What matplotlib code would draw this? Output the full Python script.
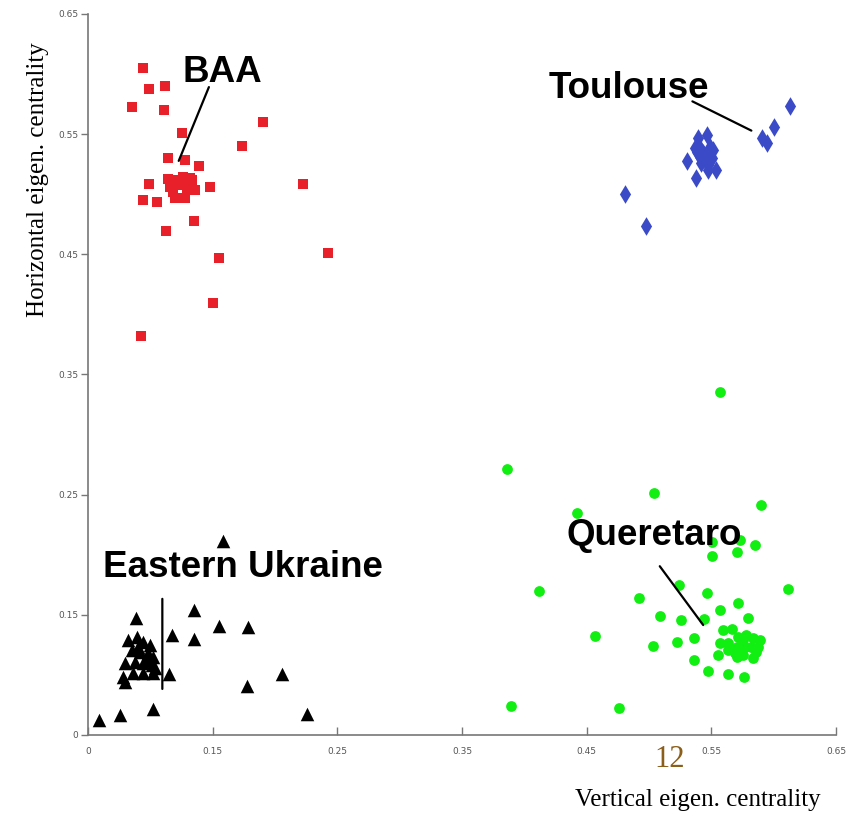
import matplotlib
matplotlib.use("Agg")
import matplotlib.pyplot as plt

# cluster coordinates (vertical eigen centrality, horizontal eigen centrality)
baa_x = [0.0939, 0.0992, 0.1117, 0.0850, 0.1109, 0.1901, 0.1256, 0.1733, 0.1139, 0.1278,
         0.1388, 0.0992, 0.1478, 0.2222, 0.0939, 0.1051, 0.1350, 0.1123, 0.1548, 0.2425,
         0.1502, 0.0925, 0.1144, 0.1198, 0.1264, 0.1318, 0.1158, 0.1224, 0.1292, 0.1358,
         0.1198, 0.1278, 0.1332, 0.1184, 0.1304]
baa_y = [0.6052, 0.5874, 0.5902, 0.5722, 0.5697, 0.5600, 0.5508, 0.5403, 0.5303, 0.5286,
         0.5234, 0.5082, 0.5057, 0.5082, 0.4948, 0.4937, 0.4779, 0.4690, 0.4468, 0.4510,
         0.4094, 0.3822, 0.5126, 0.5117, 0.5145, 0.5131, 0.5062, 0.5076, 0.5048, 0.5034,
         0.4965, 0.4965, 0.5117, 0.5020, 0.5090]

toulouse_x = [0.6130, 0.6001, 0.5903, 0.5947, 0.5394, 0.5466, 0.5368, 0.5421, 0.5488, 0.5514,
              0.5408, 0.5462, 0.5502, 0.5421, 0.5474, 0.5434, 0.5474, 0.5381, 0.5306, 0.5536,
              0.5376, 0.4806, 0.4975]
toulouse_y = [0.5735, 0.5561, 0.5464, 0.5423, 0.5464, 0.5492, 0.5381, 0.5367, 0.5394, 0.5367,
              0.5311, 0.5311, 0.5298, 0.5256, 0.5242, 0.5339, 0.5200, 0.5353, 0.5278, 0.5200,
              0.5131, 0.5001, 0.4735]

queretaro_x = [0.5568, 0.3863, 0.5039, 0.5899, 0.4424, 0.5502, 0.5729, 0.5851, 0.5704, 0.5504,
               0.4119, 0.5239, 0.4919, 0.5464, 0.6111, 0.5713, 0.5566, 0.5087, 0.5255, 0.5442,
               0.5795, 0.4563, 0.5028, 0.5226, 0.5362, 0.5362, 0.5474, 0.5632, 0.5761, 0.3890,
               0.4761, 0.5595, 0.5662, 0.5715, 0.5782, 0.5835, 0.5889, 0.5568, 0.5635, 0.5702,
               0.5769, 0.5822, 0.5875, 0.5555, 0.5688, 0.5755, 0.5835, 0.5635, 0.5755, 0.5702,
               0.5862]
queretaro_y = [0.3356, 0.2710, 0.2511, 0.2411, 0.2344, 0.2108, 0.2122, 0.2081, 0.2022, 0.1989,
               0.1700, 0.1748, 0.1642, 0.1679, 0.1715, 0.1596, 0.1540, 0.1493, 0.1457, 0.1463,
               0.1476, 0.1326, 0.1240, 0.1271, 0.1304, 0.1124, 0.1032, 0.1007, 0.0985, 0.0741,
               0.0727, 0.1374, 0.1379, 0.1318, 0.1332, 0.1304, 0.1290, 0.1263, 0.1263, 0.1235,
               0.1235, 0.1235, 0.1235, 0.1166, 0.1180, 0.1166, 0.1138, 0.1207, 0.1290, 0.1151,
               0.1193]

ukraine_x = [0.1585, 0.0883, 0.1352, 0.1171, 0.1553, 0.1781, 0.1352, 0.1152, 0.2053, 0.1775,
             0.1024, 0.0757, 0.0588, 0.2254, 0.0823, 0.0891, 0.0943, 0.0997, 0.0850, 0.0917,
             0.0984, 0.1024, 0.0797, 0.0877, 0.0943, 0.1011, 0.0783, 0.0863, 0.0943, 0.1024,
             0.0797, 0.0903, 0.0971, 0.1037]
ukraine_y = [0.2116, 0.1471, 0.1540, 0.1332, 0.1409, 0.1401, 0.1296, 0.1007, 0.1007, 0.0908,
             0.0714, 0.0666, 0.0625, 0.0675, 0.1290, 0.1318, 0.1276, 0.1249, 0.1207, 0.1193,
             0.1180, 0.1151, 0.1097, 0.1110, 0.1097, 0.1082, 0.0985, 0.1013, 0.1013, 0.1013,
             0.0943, 0.1235, 0.1124, 0.1055]

ticks = [0.05, 0.15, 0.25, 0.35, 0.45, 0.55, 0.65]
tick_labels = ['0', '0.15', '0.25', '0.35', '0.45', '0.55', '0.65']

fig = plt.figure(figsize=(8.64, 8.17), dpi=100)
ax = fig.add_axes([0.1019, 0.1004, 0.8657, 0.8825])

ax.scatter(baa_x, baa_y, marker='s', s=46, color='#e8202a', linewidths=0)
ax.scatter(toulouse_x, toulouse_y, marker='d', s=90, color='#3b4bc8', linewidths=0)
ax.scatter(queretaro_x, queretaro_y, marker='o', s=60, color='#11ee11', linewidths=0)
ax.scatter(ukraine_x, ukraine_y, marker='^', s=95, color='black', linewidths=0)

ax.set_xlim(0.05, 0.65)
ax.set_ylim(0.05, 0.65)
ax.set_xticks(ticks)
ax.set_xticklabels(tick_labels)
ax.set_yticks(ticks)
ax.set_yticklabels(tick_labels)

for side in ['top', 'right']:
    ax.spines[side].set_visible(False)
for side in ['left', 'bottom']:
    ax.spines[side].set_color('#777777')
    ax.spines[side].set_linewidth(1.2)

ax.tick_params(axis='x', direction='in', length=6, width=1, color='#777777',
               labelsize=6.5, labelcolor='#555555', pad=9)
ax.tick_params(axis='y', direction='out', length=5, width=1, color='#777777',
               labelsize=6.5, labelcolor='#555555', pad=2)

# cluster labels with leader lines
label_font = dict(fontsize=26.5, fontweight='bold', family='Liberation Sans',
                  ha='left', va='baseline', zorder=5)
ax.text(0.1254, 0.5933, 'BAA', **label_font)
ax.text(0.4197, 0.5797, 'Toulouse', **label_font)
ax.text(0.4339, 0.2081, 'Queretaro', **label_font)
ax.text(0.0620, 0.1817, 'Eastern Ukraine', **label_font)

line_style = dict(arrowstyle='-', color='black', lw=1.6)
ax.annotate('', xy=(0.1219, 0.5256), xytext=(0.1478, 0.5913), arrowprops=line_style)
ax.annotate('', xy=(0.5841, 0.5519), xytext=(0.5328, 0.5783), arrowprops=line_style)
ax.annotate('', xy=(0.5448, 0.1396), xytext=(0.5073, 0.1923), arrowprops=line_style)
ax.annotate('', xy=(0.1096, 0.0860), xytext=(0.1096, 0.1656), arrowprops=line_style)

fig.text(0.044, 0.780, 'Horizontal eigen. centrality', rotation=90, ha='center', va='center',
         fontsize=18, family='Liberation Serif')
fig.text(0.808, 0.021, 'Vertical eigen. centrality', ha='center', va='center',
         fontsize=18, family='Liberation Serif')
fig.text(0.7755, 0.0698, '12', ha='center', va='center', fontsize=22,
         family='Liberation Serif', color='#8b5e1a')

fig.savefig('out.png', dpi=100)
